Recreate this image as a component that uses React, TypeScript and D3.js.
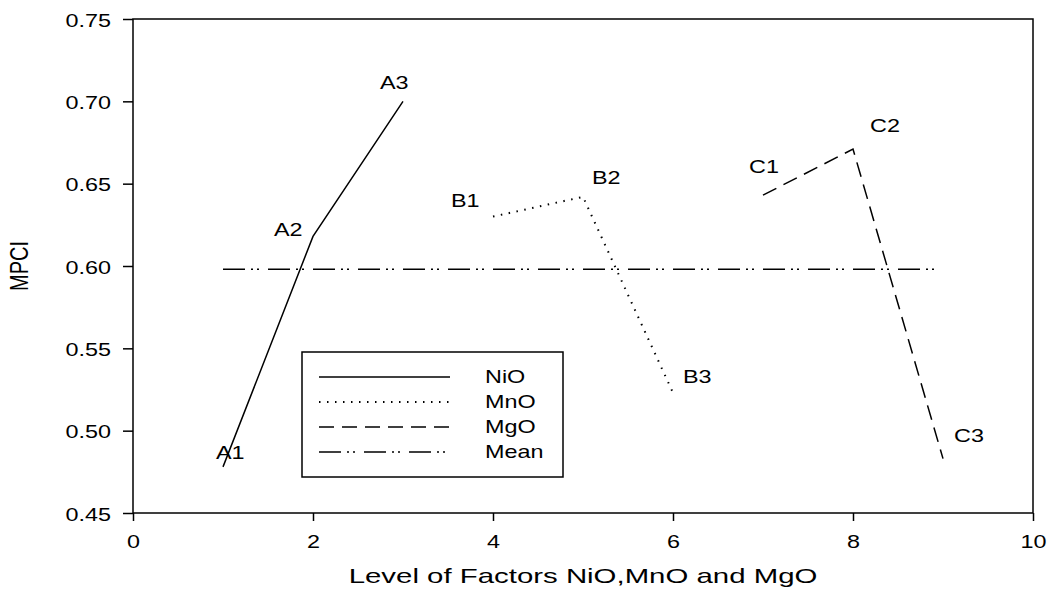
import React, { useEffect, useRef } from 'react';
import * as d3 from 'd3';

// levels of each factor and the MPCI
const levels = [1, 2, 3, 4, 5, 6, 7, 8, 9];
const nioValues = [0.478, 0.618, 0.700];
const mnoValues = [0.630, 0.642, 0.523];
const mgoValues = [0.643, 0.671, 0.483];
const meanValue = 0.598;
const pointLabels = ['A1', 'A2', 'A3', 'B1', 'B2', 'B3', 'C1', 'C2', 'C3'];
const xTicks = [0, 2, 4, 6, 8, 10];
const yTicks = [0.45, 0.5, 0.55, 0.6, 0.65, 0.7, 0.75];
const legendNames = ['NiO', 'MnO', 'MgO', 'Mean'];

// label offsets from their point, in pixels
const labelOffsets: [number, number][] = [
  [-7, -8], [-39, 0], [-23, -12],
  [-42, -10], [9, -13], [10, -10],
  [-14, -22], [17, -17], [11, -17],
];

const dashes = ['none', '1.5,6.5', '15,8', '22,6,2,4,2,9'];
const SX = 1.3; // text in the source is stretched sideways
const FONT = 'Liberation Sans, Arial, sans-serif';

export default function App() {
  const root = useRef<SVGSVGElement>(null);

  useEffect(() => {
    const svg = d3.select(root.current);
    svg.selectAll('*').remove();

    const x = d3.scaleLinear().domain([0, 10]).range([133, 1033]);
    const y = d3.scaleLinear().domain([0.45, 0.75]).range([513, 19]);

    // frame
    svg.append('rect')
      .attr('x', x(0)).attr('y', y(0.75))
      .attr('width', x(10) - x(0)).attr('height', y(0.45) - y(0.75))
      .attr('fill', 'none').attr('stroke', '#000').attr('stroke-width', 1.5);

    const yAxis = svg.append('g')
      .attr('transform', `translate(${x(0)},0)`)
      .call(d3.axisLeft(y).tickValues(yTicks).tickFormat(d3.format('.2f')).tickSize(10).tickPadding(0));
    const xAxis = svg.append('g')
      .attr('transform', `translate(0,${y(0.45)})`)
      .call(d3.axisBottom(x).tickValues(xTicks).tickFormat(d3.format('d')).tickSize(8).tickPadding(0));

    [yAxis, xAxis].forEach((ax) => {
      ax.select('.domain').remove();
      ax.selectAll('line').attr('stroke-width', 1.5);
      ax.selectAll('text')
        .attr('font-family', FONT).attr('font-size', 18).attr('fill', '#000')
        .attr('x', null).attr('y', null).attr('dy', null);
    });
    yAxis.selectAll('text').attr('text-anchor', 'end').attr('transform', `translate(-22,7) scale(${SX},1)`);
    xAxis.selectAll('text').attr('text-anchor', 'middle').attr('transform', `translate(0,35) scale(${SX},1)`);

    // axis titles
    svg.append('text')
      .attr('transform', `translate(${(x(0) + x(10)) / 2},583) scale(1.4,1)`)
      .attr('text-anchor', 'middle').attr('font-family', FONT).attr('font-size', 21)
      .text('Level of Factors NiO,MnO and MgO');
    svg.append('text')
      .attr('transform', `translate(28,${(y(0.45) + y(0.75)) / 2}) scale(${SX},1) rotate(-90)`)
      .attr('text-anchor', 'middle').attr('font-family', FONT).attr('font-size', 20)
      .text('MPCI');

    const line = d3.line<[number, number]>().x((d) => x(d[0])).y((d) => y(d[1]));
    const series = [nioValues, mnoValues, mgoValues].map((vals, i) =>
      vals.map((v, j) => [levels[i * 3 + j], v] as [number, number]));
    const meanSeries: [number, number][] = [[levels[0], meanValue], [levels[8], meanValue]];

    [...series, meanSeries].forEach((s, i) => {
      svg.append('path')
        .attr('d', line(s))
        .attr('fill', 'none').attr('stroke', '#000')
        .attr('stroke-width', i === 1 ? 2 : 1.5)
        .attr('stroke-dasharray', dashes[i]);
    });

    // point labels
    series.flat().forEach((p, i) => {
      const [dx, dy] = labelOffsets[i];
      svg.append('text')
        .attr('transform', `translate(${x(p[0]) + dx},${y(p[1]) + dy}) scale(${SX},1)`)
        .attr('font-family', FONT).attr('font-size', 18)
        .text(pointLabels[i]);
    });

    // legend
    const legend = svg.append('g');
    legend.append('rect')
      .attr('x', 302).attr('y', 352).attr('width', 261).attr('height', 125)
      .attr('fill', '#fff').attr('stroke', '#000').attr('stroke-width', 1.5);
    legendNames.forEach((name, i) => {
      const ly = 377 + i * 25;
      legend.append('line')
        .attr('x1', 319).attr('x2', 450).attr('y1', ly).attr('y2', ly)
        .attr('stroke', '#000').attr('stroke-width', i === 1 ? 2 : 1.5)
        .attr('stroke-dasharray', dashes[i]);
      legend.append('text')
        .attr('transform', `translate(485,${ly + 6}) scale(${SX},1)`)
        .attr('font-family', FONT).attr('font-size', 18)
        .text(name);
    });
  }, []);

  return (
    <svg ref={root} width={1047} height={597}
      style={{ position: 'absolute', left: 0, top: 0, background: '#fff' }} />
  );
}
